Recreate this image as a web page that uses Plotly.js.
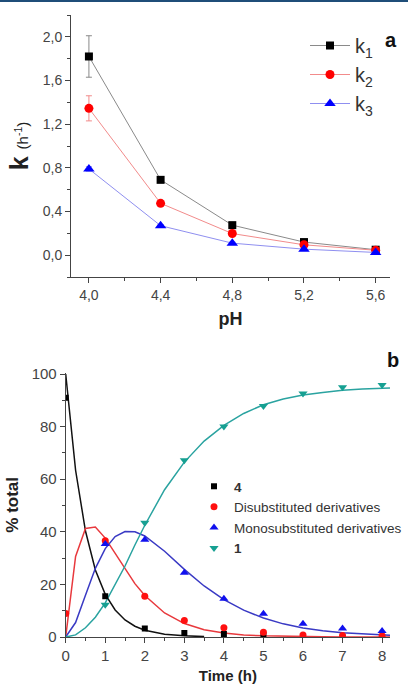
<!DOCTYPE html>
<html>
<head>
<meta charset="utf-8">
<script src="https://cdn.plot.ly/plotly-3.0.1.min.js"></script>
<style>html,body{margin:0;padding:0;background:#fff;}#chart{width:408px;height:684px;}</style>
</head>
<body>
<div id="chart"></div>
<script>
// ---- Panel a: rate constants vs pH ----
const pH = [4.0, 4.4, 4.8, 5.2, 5.6];
const k1 = [1.82, 0.69, 0.275, 0.12, 0.05];
const k1Err = [0.19, 0.02, 0.015, 0.01, 0.01];
const k2 = [1.345, 0.475, 0.198, 0.095, 0.045];
const k2Err = [0.115, 0.02, 0.01, 0.01, 0.005];
const k3 = [0.79, 0.27, 0.11, 0.055, 0.025];
const k3Err = [0.02, 0.01, 0.01, 0.005, 0.005];
const aLabels = ['k<sub>1</sub>', 'k<sub>2</sub>', 'k<sub>3</sub>'];

// ---- Panel b: % total vs time ----
const tMeas = [0, 1, 2, 3, 4, 5, 6, 7, 8];
const c4 = [91, 15.5, 3.2, 1.5, 1.1, 0.4];
const cDi = [8.9, 36.6, 15.5, 6.3, 3.5, 1.8, 0.8, 0.6, 0.5];
const tMono = [1, 2, 3, 4, 5, 6, 7, 8];
const cMono = [35.4, 37, 24.4, 14.5, 8.8, 5, 3.2, 2.3];
const tOne = [1, 2, 3, 4, 5, 6, 7, 8];
const cOne = [12.3, 43.4, 67.2, 80, 87.8, 92.6, 95, 95.8];
const bLabels = ['<b>4</b>', 'Disubstituted derivatives', 'Monosubstituted derivatives', '<b>1</b>'];

// fitted curves
const tFit4 = [0, 0.25, 0.5, 0.75, 1, 1.25, 1.5, 1.75, 2, 2.5, 3, 3.5];
const fit4 = [100, 63.4, 40.3, 25.5, 16.2, 10.3, 6.5, 4.1, 2.6, 1.06, 0.43, 0.17];
const tFit = [0, 0.25, 0.5, 0.75, 1, 1.25, 1.5, 1.75, 2, 2.5, 3, 3.5, 4, 4.5, 5, 5.5, 6, 6.5, 7, 7.5, 8, 8.2];
const fitDi = [0, 30.6, 41.3, 41.8, 37.6, 31.7, 25.8, 20.3, 15.8, 9.15, 5.1, 2.77, 1.48, 0.8, 0.45, 0.25, 0.12, 0.07, 0.03, 0.02, 0.01, 0.01];
const fitMono = [0, 5.5, 15.9, 26.1, 33.6, 38.2, 40.1, 40.0, 38.4, 32.6, 25.7, 19.4, 14.2, 10.2, 7.2, 5.0, 3.44, 2.37, 1.62, 1.1, 0.77, 0.65];
const fitOne = [0, 0.8, 3.5, 7.5, 13, 20, 27, 35, 42.5, 56, 66.5, 74.5, 80.5, 85, 88.3, 90.5, 92, 93, 93.8, 94.3, 94.6, 94.7];

const FONT = "'Liberation Sans', Arial, sans-serif";
const TICKC = '#444';

const traces = [
  {x: pH, y: k1, name: aLabels[0], type: 'scatter', mode: 'lines+markers', xaxis: 'x', yaxis: 'y', legend: 'legend', legendgroup: 'a1',
   line: {color: '#8a8a8a', width: 1}, marker: {symbol: 'square', size: 8, color: '#000'},
   error_y: {type: 'data', array: k1Err, color: '#8a8a8a', thickness: 1, width: 3}},
  {x: pH, y: k2, name: aLabels[1], type: 'scatter', mode: 'lines+markers', xaxis: 'x', yaxis: 'y', legend: 'legend', legendgroup: 'a2',
   line: {color: '#f28b8b', width: 1}, marker: {symbol: 'circle', size: 9, color: '#ff0000'},
   error_y: {type: 'data', array: k2Err, color: '#f28b8b', thickness: 1, width: 3}},
  {x: pH, y: k3, name: aLabels[2], type: 'scatter', mode: 'lines+markers', xaxis: 'x', yaxis: 'y', legend: 'legend', legendgroup: 'a3',
   line: {color: '#8f8ff0', width: 1}, marker: {symbol: 'triangle-up', size: 10, color: '#0000ff'},
   error_y: {type: 'data', array: k3Err, color: '#8f8ff0', thickness: 1, width: 3}},

  {x: tFit4, y: fit4, type: 'scatter', mode: 'lines', xaxis: 'x2', yaxis: 'y2', showlegend: false, line: {color: '#111', width: 1.5}},
  {x: tFit, y: fitDi, type: 'scatter', mode: 'lines', xaxis: 'x2', yaxis: 'y2', showlegend: false, line: {color: '#e8393d', width: 1.5}},
  {x: tFit, y: fitMono, type: 'scatter', mode: 'lines', xaxis: 'x2', yaxis: 'y2', showlegend: false, line: {color: '#3a3ac4', width: 1.5}},
  {x: tFit, y: fitOne, type: 'scatter', mode: 'lines', xaxis: 'x2', yaxis: 'y2', showlegend: false, line: {color: '#2aa3a0', width: 1.5}},

  {x: tMeas.slice(0, c4.length), y: c4, name: bLabels[0], type: 'scatter', mode: 'markers', xaxis: 'x2', yaxis: 'y2', legend: 'legend2',
   marker: {symbol: 'square', size: 6, color: '#000'}},
  {x: tMeas, y: cDi, name: bLabels[1], type: 'scatter', mode: 'markers', xaxis: 'x2', yaxis: 'y2', legend: 'legend2',
   marker: {symbol: 'circle', size: 7, color: '#ff1010'}},
  {x: tMono, y: cMono, name: bLabels[2], type: 'scatter', mode: 'markers', xaxis: 'x2', yaxis: 'y2', legend: 'legend2',
   marker: {symbol: 'triangle-up', size: 8, color: '#1010ee'}},
  {x: tOne, y: cOne, name: bLabels[3], type: 'scatter', mode: 'markers', xaxis: 'x2', yaxis: 'y2', legend: 'legend2',
   marker: {symbol: 'triangle-down', size: 8, color: '#16a092'}}
];

const W = 408, H = 684;
const axisCommon = {
  showline: true, linecolor: '#444', linewidth: 1, mirror: false, showgrid: false, zeroline: false,
  ticks: 'outside', ticklen: 5, tickcolor: '#444', tickwidth: 1,
  tickfont: {family: FONT, size: 14, color: TICKC}
};

const layout = {
  width: W, height: H,
  margin: {l: 0, r: 0, t: 0, b: 0},
  paper_bgcolor: '#fff', plot_bgcolor: '#fff',
  separators: ',.',
  font: {family: FONT, color: '#222'},
  xaxis: Object.assign({}, axisCommon, {
    domain: [71 / W, 390 / W], anchor: 'y', range: [3.9, 5.68], tick0: 4.0, dtick: 0.4, tickformat: '.1f',
    minor: {dtick: 0.2, ticklen: 3, tickcolor: '#444', ticks: 'outside'},
    title: {text: '<b>pH</b>', font: {family: FONT, size: 18, color: '#222'}, standoff: 10}
  }),
  yaxis: Object.assign({}, axisCommon, {
    domain: [1 - 277 / H, 1 - 15 / H], anchor: 'x', range: [-0.2, 2.2], tick0: 0, dtick: 0.4, tickformat: '.1f',
    minor: {dtick: 0.2, ticklen: 3, tickcolor: '#444', ticks: 'outside'},
    title: {text: '<b>k</b> <span style="font-size:15px">(h<sup>-1</sup>)</span>', font: {family: FONT, size: 25, color: '#222'}, standoff: 6}
  }),
  xaxis2: Object.assign({}, axisCommon, {
    domain: [65.7 / W, 390 / W], anchor: 'y2', range: [0, 8.2], tick0: 0, dtick: 1,
    tickfont: {family: FONT, size: 15, color: TICKC},
    minor: {dtick: 0.5, ticklen: 3, tickcolor: '#444', ticks: 'outside'},
    title: {text: '<b>Time (h)</b>', font: {family: FONT, size: 15, color: '#222'}, standoff: 10}
  }),
  yaxis2: Object.assign({}, axisCommon, {
    domain: [1 - 637 / H, 1 - 372.7 / H], anchor: 'x2', range: [0, 100.5], tick0: 0, dtick: 20,
    tickfont: {family: FONT, size: 15, color: TICKC},
    minor: {dtick: 10, ticklen: 3, tickcolor: '#444', ticks: 'outside'},
    title: {text: '<b>% total</b>', font: {family: FONT, size: 17, color: '#222'}, standoff: 8}
  }),
  legend: {
    x: 305 / W, y: 1 - 26 / H, xanchor: 'left', yanchor: 'top',
    bgcolor: 'rgba(0,0,0,0)', font: {family: FONT, size: 20, color: '#333'},
    tracegroupgap: 0, itemwidth: 40
  },
  legend2: {
    x: 194 / W, y: 1 - 471 / H, xanchor: 'left', yanchor: 'top',
    bgcolor: 'rgba(0,0,0,0)', font: {family: FONT, size: 13.5, color: '#333'},
    tracegroupgap: 0, itemwidth: 30
  },
  shapes: [
    {type: 'rect', xref: 'paper', yref: 'paper', x0: 0, x1: 1, y0: 1 - 2 / H, y1: 1, fillcolor: '#1f4e79', line: {width: 0}}
  ],
  annotations: [
    {xref: 'paper', yref: 'paper', x: 399 / W, y: 1 - 27 / H, text: '<b>a</b>', showarrow: false, font: {family: FONT, size: 20, color: '#111'}},
    {xref: 'paper', yref: 'paper', x: 401 / W, y: 1 - 360 / H, text: '<b>b</b>', showarrow: false, font: {family: FONT, size: 20, color: '#111'}}
  ]
};

Plotly.newPlot('chart', traces, layout, {displayModeBar: false, staticPlot: true});
</script>
</body>
</html>
